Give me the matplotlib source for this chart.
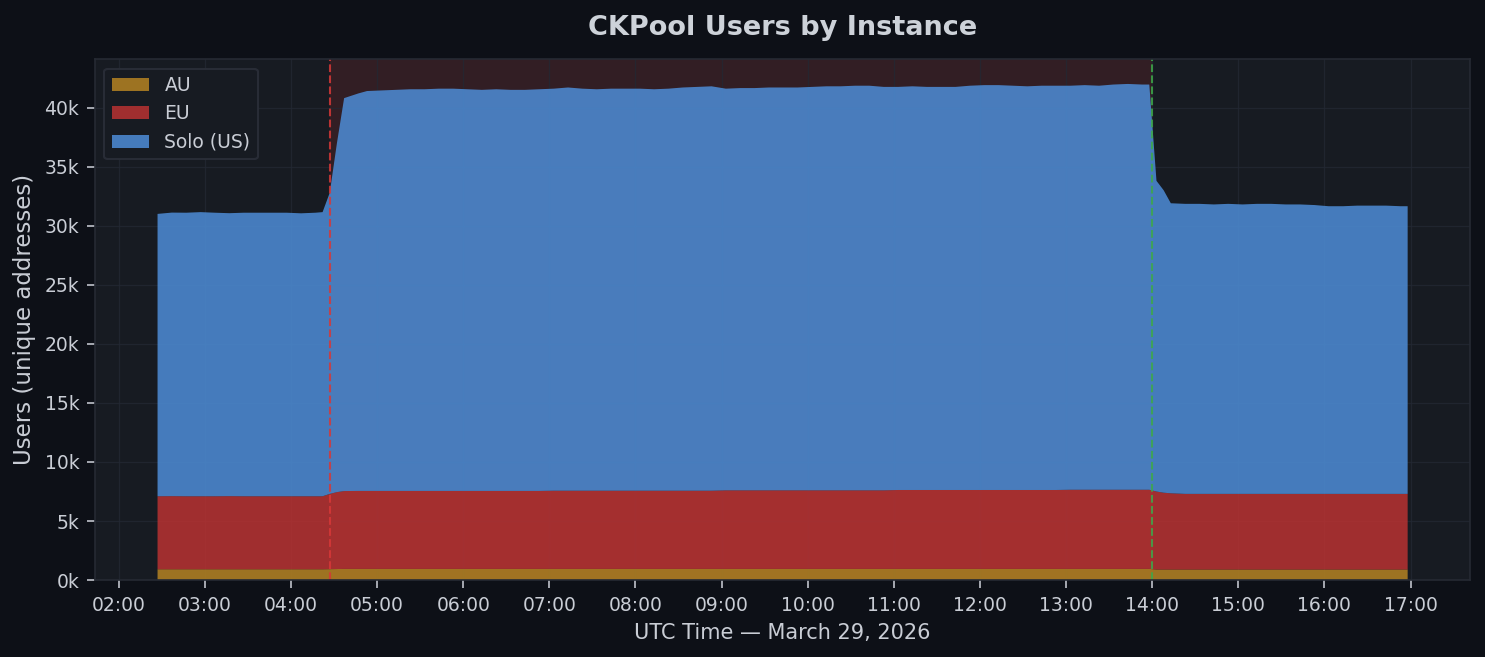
import numpy as np
import pandas as pd
import matplotlib
matplotlib.use("Agg")
import matplotlib.pyplot as plt
import matplotlib.dates as mdates
from matplotlib.ticker import FuncFormatter

# sample times (UTC, March 29, 2026)
times = [
    "02:27", "02:37", "02:47", "02:57", "03:07", "03:17", "03:27", "03:37", "03:47", "03:57",
    "04:07", "04:17", "04:22", "04:27", "04:32", "04:37", "04:47", "04:53",
    "05:03", "05:13", "05:23", "05:33", "05:43", "05:53", "06:03", "06:13", "06:23", "06:33",
    "06:43", "06:53", "07:03", "07:13", "07:23", "07:33", "07:43", "07:53", "08:03", "08:13",
    "08:23", "08:33", "08:43", "08:53", "09:03", "09:13", "09:23", "09:33", "09:43", "09:53",
    "10:03", "10:13", "10:23", "10:33", "10:43", "10:53", "11:03", "11:13", "11:23", "11:33",
    "11:43", "11:53", "12:03", "12:13", "12:23", "12:33", "12:43", "12:53", "13:03", "13:13",
    "13:23", "13:33", "13:43", "13:53", "13:58",
    "14:03", "14:08", "14:13", "14:23", "14:33", "14:43", "14:53", "15:03", "15:13", "15:23",
    "15:33", "15:43", "15:53", "16:03", "16:13", "16:23", "16:33", "16:43", "16:53", "16:58",
]

au = [920] * 13 + [930, 940, 950, 950, 950] + [950] * 55 + [900] * 20

eu = ([6180, 6190, 6180, 6180, 6180, 6190, 6180, 6180, 6180, 6180, 6180, 6180, 6180]
      + [6370, 6510, 6590, 6600, 6600]
      + [6600] * 12 + [6620] * 12 + [6650] * 12 + [6680] * 12 + [6700] * 7
      + [6600, 6500, 6450] + [6400] * 17)

solo = [
    23900, 24000, 24000, 24050, 24000, 23950, 24000, 24000, 24000, 24000,
    23950, 24000, 24050, 25500, 29550, 33260, 33650, 33850,
    33900, 33950, 34000, 34000, 34050, 34050, 34000, 33950, 34000, 33950,
    33950, 34000, 34030, 34130, 34030, 33980, 34030, 34030, 34030, 33980,
    34030, 34130, 34180, 34230, 34000, 34050, 34050, 34100, 34100, 34100,
    34150, 34200, 34200, 34250, 34250, 34150, 34120, 34170, 34120, 34120,
    34120, 34220, 34270, 34270, 34220, 34170, 34220, 34220, 34200, 34250,
    34200, 34300, 34350, 34300, 34300,
    26300, 25600, 24550, 24550, 24550, 24500, 24550, 24500, 24550, 24550,
    24500, 24500, 24450, 24350, 24350, 24400, 24400, 24400, 24350, 24350,
]

labels = ["AU", "EU", "Solo (US)"]
event_start = "04:27"
event_end = "14:00"

day = "2026-03-29 "
t = pd.to_datetime([day + s for s in times])
t0 = pd.Timestamp(day + event_start)
t1 = pd.Timestamp(day + event_end)

BG = "#0d1017"
AX_BG = "#171b22"
TXT = "#c9cdd5"

fig = plt.figure(figsize=(9.9, 4.38), dpi=150, facecolor=BG)
ax = fig.add_subplot(111)
ax.set_facecolor(AX_BG)
fig.subplots_adjust(left=0.064, right=0.99, top=0.91, bottom=0.117)

ax.grid(True, color="#232833", linewidth=0.6, alpha=0.8)
ax.set_axisbelow(True)

ax.axvspan(t0, t1, color="#dc3232", alpha=0.14, linewidth=0, zorder=0.5)

ax.stackplot(t, au, eu, solo, labels=labels,
             colors=["#b48222", "#b83232", "#4d8cd6"], alpha=0.86, zorder=1)

ax.axvline(t0, color="#d63838", linestyle="--", linewidth=1.0, alpha=0.85, zorder=2)
ax.axvline(t1, color="#3da84a", linestyle="--", linewidth=1.0, alpha=0.85, zorder=2)

ax.xaxis.set_major_locator(mdates.HourLocator())
ax.xaxis.set_major_formatter(mdates.DateFormatter("%H:%M"))
ax.yaxis.set_major_formatter(FuncFormatter(lambda v, p: f"{v/1000:.0f}k"))
ax.set_ylim(bottom=0)

ax.tick_params(colors="#c0c4cc", labelcolor=TXT, labelsize=9, length=4, width=0.8)
for s in ax.spines.values():
    s.set_color("#262a33")

ax.set_title("CKPool Users by Instance", color="#cdd2d9", fontsize=13,
             fontweight="bold", pad=11.5)
ax.set_xlabel("UTC Time — March 29, 2026", color=TXT, fontsize=10)
ax.set_ylabel("Users (unique addresses)", color=TXT, fontsize=11)

leg = ax.legend(loc="upper left", fontsize=9, facecolor=AX_BG,
                edgecolor="#2a2e38", framealpha=0.95)
for txt in leg.get_texts():
    txt.set_color(TXT)

fig.savefig("out.png", dpi=150, facecolor=BG)
